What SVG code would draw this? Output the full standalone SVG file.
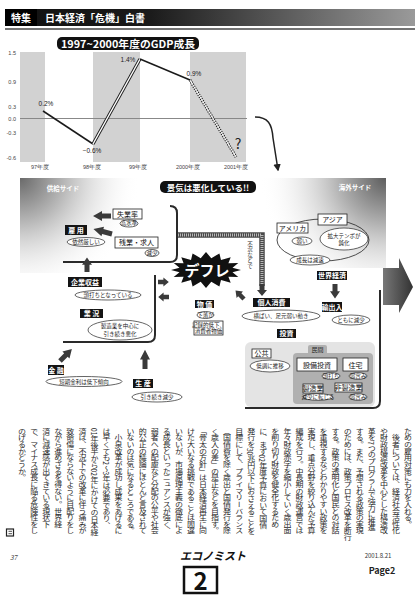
<svg xmlns="http://www.w3.org/2000/svg" width="420" height="599" viewBox="0 0 420 599">
<style>
text{font-family:"Noto Sans CJK JP","Noto Sans",sans-serif}
.lb{fill:#141414}
.lt{font-size:7px;font-weight:bold;fill:#fff;text-anchor:middle}
.el{fill:#fff;stroke:#222;stroke-width:0.7}
.et{font-size:5.5px;fill:#222;text-anchor:middle}
.bx{fill:#fff;stroke:#222;stroke-width:0.8}
.bt{font-size:7px;fill:#111;text-anchor:middle}
.arr{fill:#3a3a3a}
.ax{font-size:5.5px;fill:#444;font-family:"Liberation Sans",sans-serif}
.pct{font-size:6.5px;fill:#222;text-anchor:middle;font-family:"Liberation Sans",sans-serif}
.frm{fill:none;stroke:#2a2a2a;stroke-width:2}
.body{font-size:8px;fill:#2a2a2a;writing-mode:vertical-rl}
</style>
<defs>
<linearGradient id="hdr" x1="0" y1="0" x2="1" y2="0">
<stop offset="0" stop-color="#111"/><stop offset="0.35" stop-color="#1a1a1a"/><stop offset="1" stop-color="#9a9a9a"/>
</linearGradient>
<radialGradient id="gl" cx="20" cy="178" r="120" gradientUnits="userSpaceOnUse">
<stop offset="0" stop-color="#6a6a6a"/><stop offset="0.45" stop-color="#c8c8c8"/><stop offset="1" stop-color="#fff" stop-opacity="0"/>
</radialGradient>
<radialGradient id="gr" cx="385" cy="178" r="125" gradientUnits="userSpaceOnUse">
<stop offset="0" stop-color="#5e5e5e"/><stop offset="0.45" stop-color="#c4c4c4"/><stop offset="1" stop-color="#fff" stop-opacity="0"/>
</radialGradient>
<linearGradient id="bigarr" x1="0" y1="0" x2="1" y2="0">
<stop offset="0" stop-color="#777"/><stop offset="1" stop-color="#333"/>
</linearGradient>
<polygon id="barr" points="0,-2.5 6,-2.5 6,-5 12,0 6,5 6,2.5 0,2.5"/>
<marker id="ah" viewBox="0 0 10 10" refX="8" refY="5" markerWidth="5" markerHeight="5" orient="auto">
<path d="M0,0 L10,5 L0,10 z" fill="#222"/>
</marker>
</defs>
<rect width="420" height="599" fill="#fff"/>

<!-- header -->
<g id="header">
<rect x="5" y="9" width="410" height="17" fill="url(#hdr)"/>
<rect x="5" y="9" width="32" height="17" fill="#000"/>
<text x="21" y="22" font-size="10" font-weight="bold" fill="#fff" text-anchor="middle">特集</text>
<text x="45" y="22" font-size="10" font-weight="bold" fill="#fff">日本経済「危機」白書</text>
<line x1="5" y1="29" x2="415" y2="29" stroke="#444" stroke-width="1.5"/>
</g>

<!-- chart -->
<g id="chart">
<rect x="57" y="37" width="142" height="13" rx="5" fill="#111"/>
<text x="128" y="47.5" font-size="10" font-weight="bold" fill="#fff" text-anchor="middle" textLength="134" lengthAdjust="spacingAndGlyphs">1997~2000年度のGDP成長</text>
<rect x="20" y="52" width="25" height="110" fill="#d2d2d2"/>
<rect x="93" y="52" width="47" height="110" fill="#d2d2d2"/>
<rect x="190" y="52" width="56" height="110" fill="#d2d2d2"/>
<text class="ax" x="16" y="55" text-anchor="end">1.5</text>
<text class="ax" x="16" y="84" text-anchor="end">0.9</text>
<text class="ax" x="16" y="109" text-anchor="end">0.3</text>
<text class="ax" x="16" y="121" text-anchor="end">0.0</text>
<text class="ax" x="16" y="135" text-anchor="end">-0.3</text>
<text class="ax" x="16" y="160" text-anchor="end">-0.6</text>
<line x1="20" y1="118.5" x2="247" y2="118.5" stroke="#888" stroke-width="1"/>
<text class="ax" x="40" y="169" text-anchor="middle">97年度</text>
<text class="ax" x="92" y="169" text-anchor="middle">98年度</text>
<text class="ax" x="138" y="169" text-anchor="middle">99年度</text>
<text class="ax" x="188" y="169" text-anchor="middle">2000年度</text>
<text class="ax" x="236" y="169" text-anchor="middle">2001年度</text>
<polyline points="43,111 93,144" fill="none" stroke="#1a1a1a" stroke-width="1.5"/>
<line x1="93" y1="144" x2="140" y2="59" stroke="#1a1a1a" stroke-width="3.2"/>
<line x1="93" y1="144" x2="140" y2="59" stroke="#fff" stroke-width="1.4"/>
<line x1="140" y1="59" x2="190" y2="80" stroke="#1a1a1a" stroke-width="1.5"/>
<line x1="190" y1="80" x2="236" y2="157" stroke="#1a1a1a" stroke-width="3" stroke-dasharray="1.2 1.2"/>
<line x1="190" y1="80" x2="236" y2="157" stroke="#fff" stroke-width="1"/>
<text class="pct" x="46" y="106">0.2%</text>
<text class="pct" x="92" y="153">−0.6%</text>
<text class="pct" x="128" y="62">1.4%</text>
<text class="pct" x="194" y="76">0.9%</text>
<text x="238" y="149" font-size="14" fill="#222" text-anchor="middle" font-family="Liberation Sans,sans-serif">?</text>
</g>

<!-- side backgrounds -->
<rect x="20" y="178" width="165" height="95" fill="url(#gl)"/>
<rect x="262" y="178" width="124" height="90" fill="url(#gr)"/>
<text x="63" y="191" font-size="6.5" font-weight="bold" fill="#fff" text-anchor="middle">供給サイド</text>
<text x="355" y="190" font-size="6.5" font-weight="bold" fill="#fff" text-anchor="middle">海外サイド</text>

<!-- frames -->
<g id="frames">
<path class="frm" d="M170 206 Q177 206 177 213 L177 255 Q177 262 170 262 L63 262"/>
<path class="frm" d="M155 275 L155 335 Q155 342 148 342 L63 342"/>
<rect x="245" y="342" width="130" height="65" rx="6" fill="#e4e4e4"/>
<path class="frm" d="M380 290 L380 401 Q380 408 373 408 L245 408"/>
</g>

<!-- connectors -->
<g id="connectors">
<path d="M255 117 C268 117 272 124 273 138 L278 170" fill="none" stroke="#222" stroke-width="1.5" marker-end="url(#ah)"/>
<path d="M178 235 L262 235 L262 286" fill="none" stroke="#4a4a4a" stroke-width="5.5"/>
<path d="M178 235 L262 235 L262 286" fill="none" stroke="#b8b8b8" stroke-width="3" stroke-dasharray="1 1"/>
<use href="#barr" class="arr" transform="translate(262,284) rotate(90)"/>
<use href="#barr" class="arr" transform="translate(111,216) rotate(180) scale(1.5,1)"/>
<use href="#barr" class="arr" transform="translate(112,234) rotate(195) scale(1.6,1)"/>
<use href="#barr" class="arr" transform="translate(87,272) rotate(-90) scale(1.2,1)"/>
<use href="#barr" class="arr" transform="translate(158,282) scale(0.9,0.9)"/>
<use href="#barr" class="arr" transform="translate(169,297) rotate(180) scale(0.9,0.9)"/>
<use href="#barr" class="arr" transform="translate(60,361) rotate(-45) scale(1.4,1)"/>
<use href="#barr" class="arr" transform="translate(145,369) rotate(-90) scale(1.6,1)"/>
<use href="#barr" class="arr" transform="translate(244,299) rotate(-135) scale(1,0.9)"/>
<use href="#barr" class="arr" transform="translate(335,284) rotate(90) scale(1.2,1)"/>
<polygon points="383,268 399,268 399,258 413,287 399,313 399,305 383,305" fill="url(#bigarr)"/>
<text x="250" y="241" font-size="5.5" fill="#333" style="writing-mode:vertical-rl">不況などで</text>
</g>

<!-- title -->
<g id="title">
<rect x="160" y="181" width="96" height="12" rx="5" fill="#111"/>
<text x="208" y="190.5" font-size="8.5" font-weight="bold" fill="#fff" text-anchor="middle">景気は悪化している!!</text>
</g>

<!-- left side nodes -->
<g id="shitsugyo"><rect class="bx" x="113" y="209" width="29" height="10"/><text class="bt" x="127.5" y="216.5">失業率</text>
<ellipse class="el" cx="129" cy="223.5" rx="9" ry="3.5"/><text class="et" x="129" y="225.3" font-size="4.5">高水準</text></g>
<g id="zangyo"><rect class="bx" x="115" y="237" width="43" height="11"/><text class="bt" x="136.5" y="245">残業・求人</text>
<ellipse class="el" cx="152" cy="253" rx="7" ry="3.5"/><text class="et" x="152" y="254.8" font-size="4.5">減少</text></g>
<g id="koyo"><rect class="lb" x="65" y="225" width="22" height="10"/><text class="lt" x="76" y="232.5">雇 用</text>
<ellipse class="el" cx="86" cy="242" rx="19" ry="4.5"/><text class="et" x="86" y="244">依然厳しい</text></g>
<g id="kigyo"><rect class="lb" x="68" y="277" width="34" height="10"/><text class="lt" x="85" y="284.5">企業収益</text>
<ellipse class="el" cx="108" cy="295" rx="33" ry="5"/><text class="et" x="108" y="297">頭打ちとなっている</text></g>
<g id="gyokyo"><rect class="lb" x="80" y="309" width="23" height="9"/><text class="lt" x="91.5" y="316">業 況</text>
<ellipse class="el" cx="120" cy="330" rx="32" ry="10"/><text class="et" x="120" y="328">製造業を中心に</text><text class="et" x="120" y="335.5">引き続き悪化</text></g>
<g id="kinyu"><rect class="lb" x="48" y="365" width="16" height="10"/><text class="lt" x="56" y="372.5" font-size="6">金 融</text>
<ellipse class="el" cx="84" cy="381.5" rx="38" ry="5"/><text class="et" x="84" y="383.5">短期金利は低下傾向</text></g>
<g id="seisan"><rect class="lb" x="133" y="379" width="20" height="9"/><text class="lt" x="143" y="386">生 産</text>
<ellipse class="el" cx="157" cy="397" rx="25" ry="5"/><text class="et" x="157" y="399">引き続き減少</text></g>

<!-- deflation -->
<g id="deflation">
<polygon fill="#111" points="241,270 232.5,272.3 238.3,276.9 228.4,276.7 230.7,282.7 221,280 219.4,286.6 211.3,281.8 206,288 200.7,281.8 192.6,286.6 191,280 181.3,282.7 183.6,276.7 173.7,276.9 179.5,272.3 171,270 179.5,267.7 173.7,263.1 183.6,263.3 181.3,257.3 191,260 192.6,253.4 200.7,258.2 206,252 211.3,258.2 219.4,253.4 221,260 230.7,257.3 228.4,263.3 238.3,263.1 232.5,267.7"/>
<text x="207" y="276" font-size="15" font-weight="bold" fill="#fff" text-anchor="middle">デフレ</text>
</g>

<!-- center nodes -->
<g id="bukka"><rect class="lb" x="195" y="300" width="19" height="8"/><text class="lt" x="204.5" y="306.5" font-size="6">物 価</text>
<ellipse class="el" cx="205.5" cy="315" rx="8.5" ry="3.5"/><text class="et" x="205.5" y="316.8" font-size="4.5">下落が</text>
<rect class="bx" x="194" y="321" width="29" height="14" stroke-width="0.6"/><text class="et" x="208.5" y="326.5" font-size="4.2">記録的低下、</text><text class="et" x="208.5" y="333" font-size="4.2">消費者物価</text></g>
<g id="shohi"><rect class="lb" x="253" y="298" width="37" height="9"/><text class="lt" x="271.5" y="305">個人消費</text>
<ellipse class="el" cx="281" cy="316" rx="39" ry="6"/><text class="et" x="281" y="318">横ばい、足元弱い動き</text></g>
<g id="toshi"><rect class="lb" x="277" y="329" width="19" height="9"/><text class="lt" x="286.5" y="336">投資</text></g>
<g id="kokyo"><rect class="bx" x="252" y="349" width="19" height="9"/><text class="bt" x="261.5" y="356">公共</text>
<ellipse class="el" cx="270" cy="366" rx="20" ry="6"/><text class="et" x="270" y="368">低調に推移</text></g>
<g id="minkan">
<rect x="308" y="345" width="19" height="10" rx="2" fill="#b0b0b0"/>
<rect x="293" y="353" width="80" height="51" rx="4" fill="#b0b0b0"/>
<text x="317.5" y="352" font-size="6" fill="#222" text-anchor="middle">民間</text>
</g>
<g id="setsubi"><rect class="bx" x="297" y="358" width="40" height="13"/><text class="bt" x="317" y="367.5" font-size="7.5">設備投資</text>
<ellipse class="el" cx="331" cy="376" rx="9" ry="3.3"/><text class="et" x="331" y="377.7" font-size="4.5">頭打ち</text></g>
<g id="jutaku"><rect class="bx" x="343" y="358" width="25" height="13"/><text class="bt" x="355.5" y="367.5" font-size="7.5">住宅</text>
<ellipse class="el" cx="358" cy="376" rx="9" ry="3.3"/><text class="et" x="358" y="377.7" font-size="4.5">弱含み</text></g>
<g id="seizo"><rect class="bx" x="303" y="384" width="20" height="9"/><text class="bt" x="313" y="390.5" font-size="5.5">製造業</text>
<ellipse class="el" cx="318" cy="397" rx="15" ry="3.3"/><text class="et" x="318" y="398.7" font-size="4.5">減少に転じる</text></g>
<g id="hiseizo"><rect class="bx" x="335" y="383" width="27" height="9"/><text class="bt" x="348.5" y="389.5" font-size="5.5">非製造業</text>
<ellipse class="el" cx="358" cy="397" rx="9" ry="3.3"/><text class="et" x="358" y="398.7" font-size="4.5">弱含み</text></g>

<!-- right side nodes -->
<g id="sekai-oval"><ellipse cx="323" cy="240" rx="46" ry="21" fill="none" stroke="#222" stroke-width="0.8"/></g>
<g id="asia"><rect class="bx" x="318" y="214" width="29" height="11"/><text class="bt" x="332.5" y="222">アジア</text>
<ellipse class="el" cx="344" cy="239" rx="24" ry="11"/><text class="et" x="344" y="237.5" font-size="6">拡大テンポが</text><text class="et" x="344" y="245" font-size="6">鈍化</text></g>
<g id="america"><rect class="bx" x="277" y="223" width="31" height="10"/><text class="bt" x="292.5" y="230.5">アメリカ</text>
<ellipse class="el" cx="302" cy="241" rx="10" ry="4"/><text class="et" x="302" y="243" font-size="5.5">弱い</text></g>
<g id="seicho"><ellipse class="el" cx="310" cy="260" rx="20" ry="5"/><text class="et" x="310" y="262">成長は減速</text></g>
<g id="sekai"><rect class="lb" x="317" y="271" width="30" height="9"/><text class="lt" x="332" y="278">世界経済</text></g>
<g id="yushutsu"><rect class="lb" x="322" y="302" width="20" height="10"/><text class="lt" x="332" y="309.5" font-size="6.5">輸出入</text>
<ellipse class="el" cx="351" cy="320" rx="19" ry="5"/><text class="et" x="351" y="322">ともに減少</text></g>

<!-- body text -->
<g id="body" transform="translate(0,428) scale(1,0.83)">
<text class="body" x="408" y="0">ための雇用対策にも力を入れる。</text>
<text class="body" x="395.9" y="0">　後者については、経済社会活性化</text>
<text class="body" x="383.9" y="0">や財政構造改革を中心とした構造改</text>
<text class="body" x="371.8" y="0">革を7つのプログラムで強力に推進</text>
<text class="body" x="359.8" y="0">する。また、予想される政策の実現</text>
<text class="body" x="347.7" y="0">のためには、政策プロセス改革を断行</text>
<text class="body" x="335.6" y="0">する。政策の透明化と国民との対話</text>
<text class="body" x="323.6" y="0">を重視するなどわかりやすい政策を</text>
<text class="body" x="311.5" y="0">実現し、重点分野を絞り込んだ予算</text>
<text class="body" x="299.5" y="0">編成を行う。中長期の財政運営では</text>
<text class="body" x="287.4" y="0">年々財政赤字を縮小していく歳出面</text>
<text class="body" x="275.3" y="0">を削り切り財政を健全化するため</text>
<text class="body" x="263.3" y="0">に、まず02年度予算において国債</text>
<text class="body" x="251.2" y="0">発行を30兆円以下におさえることを</text>
<text class="body" x="239.2" y="0">目標にして、プライマリーバランス</text>
<text class="body" x="227.1" y="0">（国債費を除く歳出と国債発行を除</text>
<text class="body" x="215" y="0">く歳入の差」の是正などを目指す。</text>
<text class="body" x="203" y="0">「骨太の方針」は日本経済再生に向</text>
<text class="body" x="190.9" y="0">けた大いなる挑戦であることは間違</text>
<text class="body" x="178.9" y="0">いないが、市場原理主義の徹底によ</text>
<text class="body" x="166.8" y="0">る成長といったニュアンスが強く、</text>
<text class="body" x="154.8" y="0">弱者への配慮など分配の公平や社会</text>
<text class="body" x="142.7" y="0">的公正の議論にほとんど言及されて</text>
<text class="body" x="130.6" y="0">いないのは気になるところである。</text>
<text class="body" x="118.6" y="0">　小泉改革が成功し成果をあげるに</text>
<text class="body" x="106.5" y="0">は早くても2～3年は必要であり、</text>
<text class="body" x="94.5" y="0">01年後半から02年にかけての日本経</text>
<text class="body" x="82.4" y="0">済は、不況下での改革に伴う痛みが</text>
<text class="body" x="70.3" y="0">致命傷にならないように目配りをし</text>
<text class="body" x="58.3" y="0">ながら進めざるを得ない。世界経</text>
<text class="body" x="46.2" y="0">済に減速感が出てきている現状下</text>
<text class="body" x="34.2" y="0">で、マイナス成長に陥る危険性をし</text>
<text class="body" x="22.1" y="0">のげるかどうか。</text>
</g>
<g id="endmark">
<rect x="6.5" y="529" width="7" height="7" fill="none" stroke="#222" stroke-width="1.2"/>
<line x1="8.5" y1="531.3" x2="12" y2="531.3" stroke="#222" stroke-width="0.8"/>
<line x1="8.5" y1="533.7" x2="12" y2="533.7" stroke="#222" stroke-width="0.8"/>
</g>

<!-- footer -->
<g id="footer">
<text x="10" y="560" font-size="6.5" font-style="italic" fill="#444" font-family="Liberation Serif,serif">37</text>
<text x="180" y="560" font-size="11" font-weight="bold" font-style="italic" fill="#111">エコノミスト</text>
<rect x="184" y="567" width="33" height="26" fill="none" stroke="#111" stroke-width="2.5"/>
<text x="200.5" y="590" font-size="24" font-weight="bold" fill="#111" text-anchor="middle" font-family="Liberation Sans,sans-serif">2</text>
<text x="378" y="558" font-size="6" fill="#333" text-anchor="middle" font-family="Liberation Serif,serif">2001.8.21</text>
<text x="382" y="574" font-size="9" font-weight="bold" fill="#222" text-anchor="middle" font-family="Liberation Sans,sans-serif">Page2</text>
</g>
</svg>
